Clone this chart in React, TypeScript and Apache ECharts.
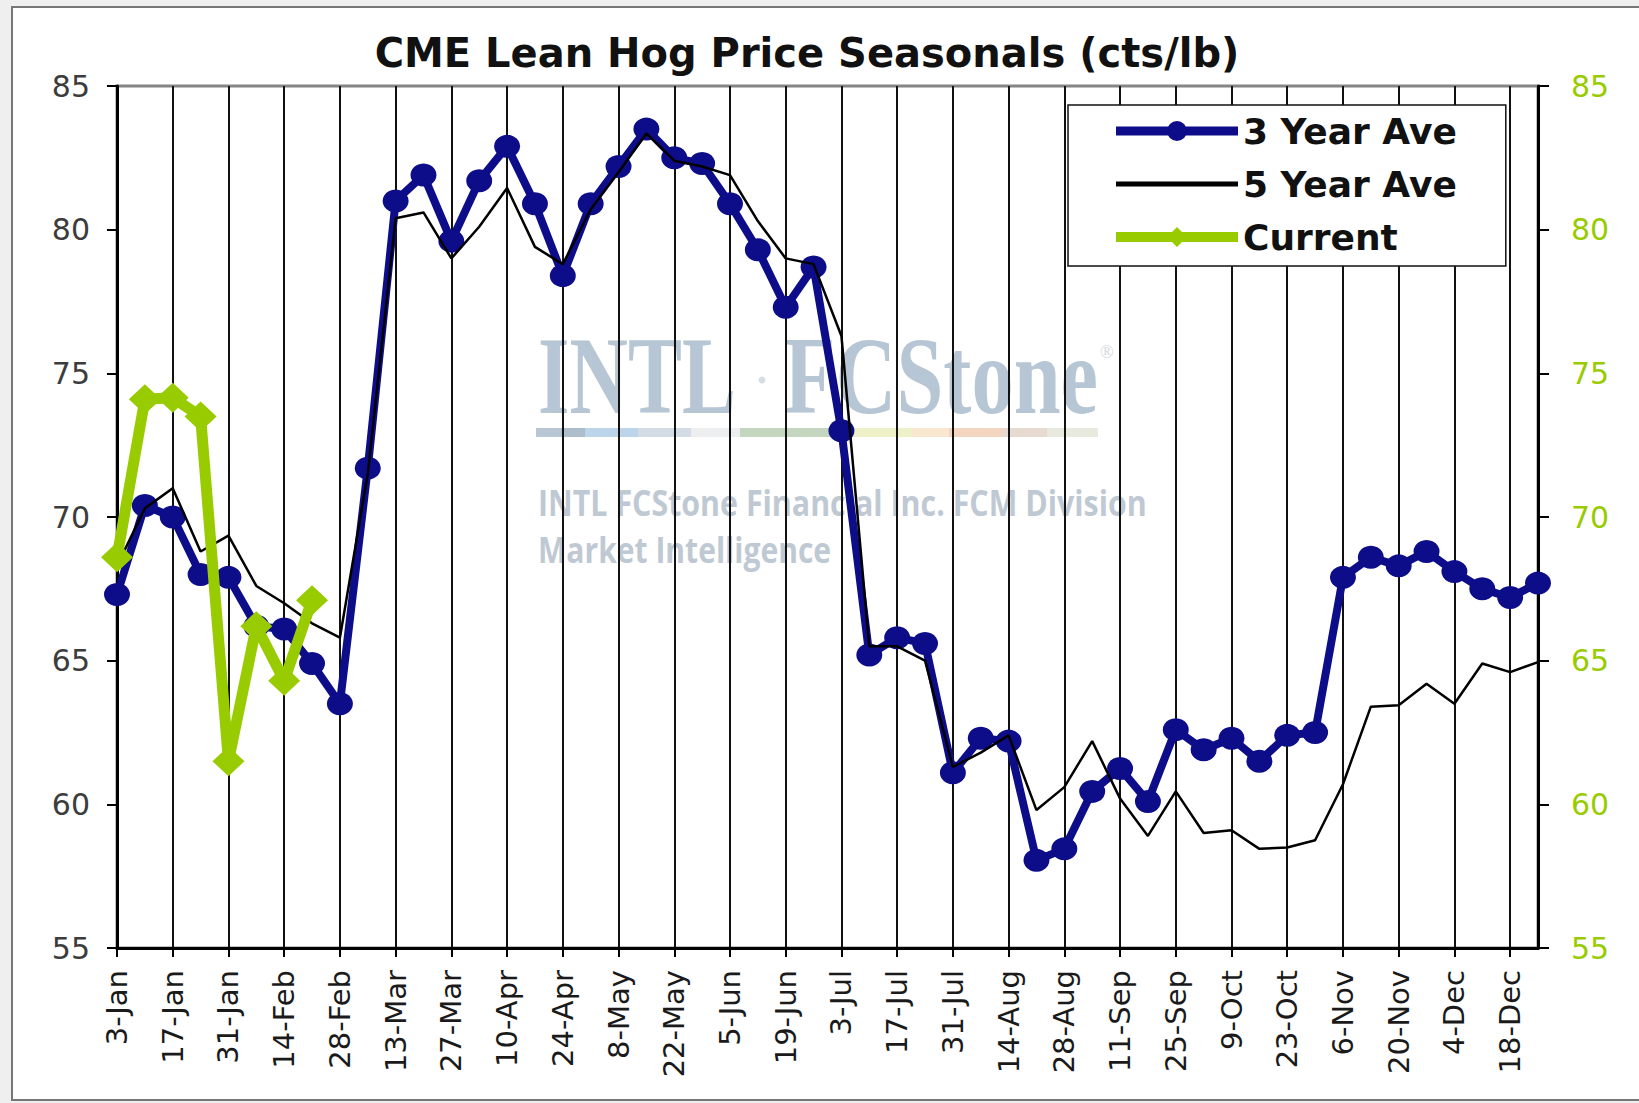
import React, { useEffect, useRef } from 'react';
import * as echarts from 'echarts';

// ---- data ----
const weeks = [
  '3-Jan', '10-Jan', '17-Jan', '24-Jan', '31-Jan', '7-Feb', '14-Feb', '21-Feb', '28-Feb',
  '6-Mar', '13-Mar', '20-Mar', '27-Mar', '3-Apr', '10-Apr', '17-Apr', '24-Apr',
  '1-May', '8-May', '15-May', '22-May', '29-May', '5-Jun', '12-Jun', '19-Jun', '26-Jun',
  '3-Jul', '10-Jul', '17-Jul', '24-Jul', '31-Jul', '7-Aug', '14-Aug', '21-Aug', '28-Aug',
  '4-Sep', '11-Sep', '18-Sep', '25-Sep', '2-Oct', '9-Oct', '16-Oct', '23-Oct', '30-Oct',
  '6-Nov', '13-Nov', '20-Nov', '27-Nov', '4-Dec', '11-Dec', '18-Dec', '25-Dec',
];

const threeYearAve = [
  67.3, 70.4, 70.0, 68.0, 67.9, 66.2, 66.1, 64.9, 63.5, 71.7,
  81.0, 81.9, 79.6, 81.7, 82.9, 80.9, 78.4, 80.9, 82.2, 83.5,
  82.5, 82.3, 80.9, 79.3, 77.3, 78.7, 73.0, 65.2, 65.8, 65.6,
  61.1, 62.3, 62.2, 58.05, 58.45, 60.45, 61.25, 60.1, 62.6, 61.9,
  62.3, 61.5, 62.4, 62.5, 67.9, 68.6, 68.3, 68.8, 68.1, 67.5,
  67.2, 67.7,
];

const fiveYearAve = [
  68.3, 70.3, 71.0, 68.8, 69.35, 67.6, 67.0, 66.3, 65.8, 71.5,
  80.4, 80.6, 79.0, 80.1, 81.45, 79.4, 78.8, 80.7, 82.0, 83.35,
  82.4, 82.2, 81.9, 80.3, 79.0, 78.8, 76.3, 65.5, 65.5, 65.0,
  61.3, 61.8, 62.4, 59.8, 60.6, 62.2, 60.2, 58.9, 60.45, 59.0,
  59.1, 58.45, 58.5, 58.75, 60.7, 63.4, 63.45, 64.2, 63.5, 64.9,
  64.6, 64.95,
];

const current = [68.6, 74.1, 74.15, 73.5, 61.5, 66.2, 64.3, 67.1];

const yMin = 55;
const yMax = 85;
const yStep = 5;

const seriesNames = ['3 Year Ave', '5 Year Ave', 'Current'];
const titleText = 'CME Lean Hog Price Seasonals (cts/lb)';

// ---- styles ----
const NAVY = '#0d0d8a';
const GREEN = '#99cc00';
const WM = '#b7c6d4';
const WM_SUB = '#bfc9d3';

function fitScale(text: string, font: string, target: number): number {
  const c = document.createElement('canvas').getContext('2d');
  if (!c) return 1;
  c.font = font;
  const w = c.measureText(text).width;
  return w > 0 ? target / w : 1;
}

export default function App() {
  const ref = useRef<HTMLDivElement>(null);

  useEffect(() => {
    if (!ref.current) return;
    const chart = echarts.init(ref.current, null, { renderer: 'svg' });

    const logoFont = 'bold 110px "Liberation Serif"';
    const subFont = 'bold 36px "Open Sans"';
    const sIntl = fitScale('INTL', logoFont, 198);
    const sFc = fitScale('FCStone', logoFont, 314);
    const sSub1 = fitScale('INTL FCStone Financial Inc. FCM Division', subFont, 609);
    const sSub2 = fitScale('Market Intelligence', subFont, 293);

    const barSegs: [number, number, string][] = [
      [536, 561, '#b9c6d3'], [561, 585, '#aebdcc'], [585, 638, '#bdd5ea'],
      [638, 691, '#d3dce5'], [691, 740, '#eceeef'], [740, 842, '#c5d6c0'],
      [842, 912, '#eef0c8'], [912, 949, '#f9e7d0'], [949, 1002, '#f4d5bf'],
      [1002, 1047, '#e6dad1'], [1047, 1098, '#e9eadf'],
    ];

    const graphic: any[] = [
      {
        type: 'rect', z: -100, silent: true,
        shape: { x: 12, y: 7, width: 1640, height: 1093 },
        style: { fill: '#ffffff', stroke: '#777777', lineWidth: 2 },
      },
      {
        type: 'text', z: -50, x: 538, y: 376, scaleX: sIntl, silent: true,
        style: { text: 'INTL', font: logoFont, fill: WM, textAlign: 'left', textVerticalAlign: 'middle' },
      },
      {
        type: 'circle', z: -50, silent: true,
        shape: { cx: 762, cy: 380, r: 3.5 }, style: { fill: '#d5dde5' },
      },
      {
        type: 'text', z: -50, x: 784, y: 376, scaleX: sFc, silent: true,
        style: { text: 'FCStone', font: logoFont, fill: WM, textAlign: 'left', textVerticalAlign: 'middle' },
      },
      {
        type: 'text', z: -50, x: 1100, y: 352, silent: true,
        style: { text: '®', font: 'normal 18px "Liberation Serif"', fill: '#d0d8e0', textAlign: 'left', textVerticalAlign: 'middle' },
      },
      ...barSegs.map(([a, b, col]) => ({
        type: 'rect', z: -50, silent: true,
        shape: { x: a, y: 428, width: b - a, height: 9 },
        style: { fill: col },
      })),
      {
        type: 'text', z: -50, x: 538, y: 502, scaleX: sSub1, silent: true,
        style: { text: 'INTL FCStone Financial Inc. FCM Division', font: subFont, fill: WM_SUB, textAlign: 'left', textVerticalAlign: 'middle' },
      },
      {
        type: 'text', z: -50, x: 538, y: 549, scaleX: sSub2, silent: true,
        style: { text: 'Market Intelligence', font: subFont, fill: WM_SUB, textAlign: 'left', textVerticalAlign: 'middle' },
      },
    ];

    const icon3 = 'path://M0,7H122V16H0Z M51,11.5A10,10 0 1,1 71,11.5A10,10 0 1,1 51,11.5Z';
    const icon5 = 'path://M0,0H122V5H0Z';
    const iconC = 'path://M0,6.5H122V16.5H0Z M61,1.5L71,11.5L61,21.5L51,11.5Z';

    const option: any = {
      animation: false,
      backgroundColor: '#efefef',
      textStyle: { fontFamily: 'DejaVu Sans' },
      title: {
        text: titleText,
        left: 807,
        top: 33,
        padding: 0,
        textAlign: 'center',
        textStyle: { fontFamily: 'DejaVu Sans', fontWeight: 'bold', fontSize: 40, color: '#111111' },
      },
      graphic,
      legend: {
        orient: 'vertical',
        left: 1068,
        top: 105,
        padding: [8, 49, 11, 48],
        itemWidth: 122,
        itemHeight: 22,
        itemGap: 17,
        backgroundColor: '#ffffff',
        borderColor: '#111111',
        borderWidth: 1.5,
        selectedMode: false,
        itemStyle: { borderWidth: 0 },
        textStyle: { fontFamily: 'DejaVu Sans', fontWeight: 'bold', fontSize: 36, color: '#111111' },
        data: [
          { name: seriesNames[0], icon: icon3 },
          { name: seriesNames[1], icon: icon5 },
          { name: seriesNames[2], icon: iconC },
        ],
      },
      grid: {
        left: 117,
        right: 101,
        top: 86,
        bottom: 155,
        show: true,
        borderColor: '#858585',
        borderWidth: 3,
        backgroundColor: 'transparent',
      },
      xAxis: {
        type: 'category',
        data: weeks,
        boundaryGap: false,
        axisLine: { show: true, lineStyle: { color: '#000000', width: 3 } },
        axisTick: { show: true, interval: 1, length: 9, lineStyle: { color: '#000000', width: 2 } },
        axisLabel: {
          interval: 1, rotate: 90, margin: 22,
          fontFamily: 'DejaVu Sans', fontSize: 29, color: '#1a1a1a',
        },
        splitLine: { show: true, interval: 1, lineStyle: { color: '#111111', width: 2 } },
      },
      yAxis: [
        {
          type: 'value',
          min: yMin, max: yMax, interval: yStep,
          position: 'left',
          axisLine: { show: true, lineStyle: { color: '#000000', width: 3 } },
          axisTick: { show: true, length: 10, lineStyle: { color: '#000000', width: 2 } },
          axisLabel: { margin: 27, fontFamily: 'DejaVu Sans', fontSize: 30, color: '#3c3c3c' },
          splitLine: { show: false },
        },
        {
          type: 'value',
          min: yMin, max: yMax, interval: yStep,
          position: 'right',
          axisLine: { show: true, lineStyle: { color: '#000000', width: 3 } },
          axisTick: { show: true, length: 11, lineStyle: { color: '#000000', width: 2 } },
          axisLabel: { margin: 33, fontFamily: 'DejaVu Sans', fontSize: 30, color: GREEN },
          splitLine: { show: false },
        },
      ],
      series: [
        {
          name: seriesNames[0],
          type: 'line',
          data: threeYearAve,
          yAxisIndex: 0,
          symbol: 'circle',
          symbolSize: [26, 23],
          showAllSymbol: true,
          lineStyle: { width: 8, color: NAVY },
          itemStyle: { color: NAVY, borderWidth: 0 },
          z: 2,
        },
        {
          name: seriesNames[1],
          type: 'line',
          data: fiveYearAve,
          yAxisIndex: 0,
          symbol: 'none',
          lineStyle: { width: 2.5, color: '#000000' },
          itemStyle: { color: '#000000' },
          z: 3,
        },
        {
          name: seriesNames[2],
          type: 'line',
          data: current,
          yAxisIndex: 0,
          symbol: 'diamond',
          symbolSize: [32, 30],
          showAllSymbol: true,
          lineStyle: { width: 11, color: GREEN },
          itemStyle: { color: GREEN, borderWidth: 0 },
          z: 4,
        },
      ],
    };

    chart.setOption(option);
    return () => chart.dispose();
  }, []);

  return (
    <div
      ref={ref}
      style={{ position: 'fixed', left: 0, top: 0, width: 1639, height: 1103 }}
    />
  );
}
